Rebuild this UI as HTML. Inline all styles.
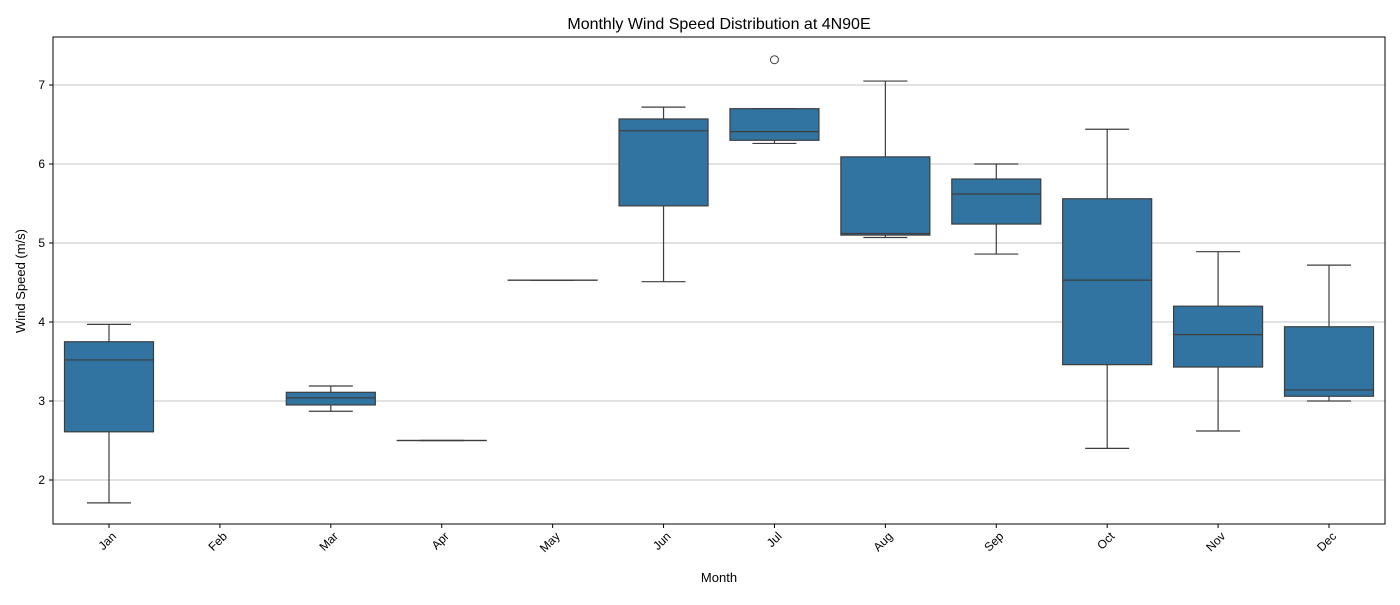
<!DOCTYPE html>
<html><head><meta charset="utf-8"><style>
body{margin:0;background:#fff;font-family:"Liberation Sans",sans-serif}
</style></head><body>
<svg width="1400" height="600" xmlns="http://www.w3.org/2000/svg" id="svg" font-family="Liberation Sans, sans-serif">
<rect width="1400" height="600" fill="#fff"/>
<text x="719" y="29" font-size="16" text-anchor="middle">Monthly Wind Speed Distribution at 4N90E</text>
<text x="719" y="582" font-size="13" text-anchor="middle">Month</text>
<text transform="translate(25,281) rotate(-90)" font-size="13" text-anchor="middle">Wind Speed (m/s)</text>
<g id="grid"></g><g id="boxes"></g><g id="axes"></g>
</svg>
<script>
const months=["Jan","Feb","Mar","Apr","May","Jun","Jul","Aug","Sep","Oct","Nov","Dec"];
const lows=[1.71,null,2.87,2.5,4.53,4.51,6.26,5.07,4.86,2.4,2.62,3.0];
const q1s=[2.61,null,2.95,2.5,4.53,5.47,6.3,5.1,5.24,3.46,3.43,3.06];
const meds=[3.52,null,3.04,2.5,4.53,6.42,6.41,5.12,5.62,4.53,3.84,3.14];
const q3s=[3.75,null,3.11,2.5,4.53,6.57,6.7,6.09,5.81,5.56,4.2,3.94];
const highs=[3.97,null,3.19,2.5,4.53,6.72,6.7,7.05,6.0,6.44,4.89,4.72];
const outliers=[[],[],[],[],[],[],[7.32],[],[],[],[],[]];
const yTicks=[2,3,4,5,6,7];
const L=53,R=1385,T=37,B=524;
const y=v=>480-(v-2)*79;
const x=i=>109+i*(1329-109)/11;
const NS="http://www.w3.org/2000/svg";
function mk(p,tag,a){const e=document.createElementNS(NS,tag);for(const k in a)e.setAttribute(k,a[k]);p.appendChild(e);return e;}
const g=document.getElementById('grid'),bx=document.getElementById('boxes'),ax=document.getElementById('axes');
yTicks.forEach(t=>{
 const l=mk(g,'line',{x1:L,x2:R,y1:y(t),y2:y(t),stroke:'#b0b0b0','stroke-width':0.8});
 
 
 mk(ax,'line',{x1:L-4,x2:L,y1:y(t),y2:y(t),stroke:'#000'});
 const tx=mk(ax,'text',{x:L-8,y:y(t)+4,'font-size':12,'text-anchor':'end'});tx.textContent=t;
 
 
});
const bw=89,cw=44,c='#3d3d3d';
months.forEach((m,i)=>{
 const cx=x(i);
 mk(ax,'line',{x1:cx,x2:cx,y1:B,y2:B+4,stroke:'#000'});
 const tx=mk(ax,'text',{x:cx+8,y:B+13,'font-size':12,'text-anchor':'end',transform:`rotate(-45 ${cx+8} ${B+13})`});tx.textContent=m;
 
 
 if(lows[i]==null)return;
 const grp=mk(bx,'g',{});
 
 
 mk(grp,'line',{x1:cx,x2:cx,y1:y(lows[i]),y2:y(q1s[i]),stroke:c,'stroke-width':1.2});
 mk(grp,'line',{x1:cx,x2:cx,y1:y(highs[i]),y2:y(q3s[i]),stroke:c,'stroke-width':1.2});
 mk(grp,'line',{x1:cx-cw/2,x2:cx+cw/2,y1:y(lows[i]),y2:y(lows[i]),stroke:c,'stroke-width':1.2});
 mk(grp,'line',{x1:cx-cw/2,x2:cx+cw/2,y1:y(highs[i]),y2:y(highs[i]),stroke:c,'stroke-width':1.2});
 mk(grp,'rect',{x:cx-bw/2,y:y(q3s[i]),width:bw,height:Math.max(0.01,y(q1s[i])-y(q3s[i])),fill:'#3274a1',stroke:c,'stroke-width':1.2});
 mk(grp,'line',{x1:cx-bw/2,x2:cx+bw/2,y1:y(meds[i]),y2:y(meds[i]),stroke:c,'stroke-width':1.2});
 outliers[i].forEach(o=>{const ci=mk(grp,'circle',{cx:cx,cy:y(o),r:4,fill:'none',stroke:c,'stroke-width':1});
  
  });
});
const fr=mk(ax,'rect',{x:L,y:T,width:R-L,height:B-T,fill:'none',stroke:'#000','stroke-width':1});


</script>
</body></html>
